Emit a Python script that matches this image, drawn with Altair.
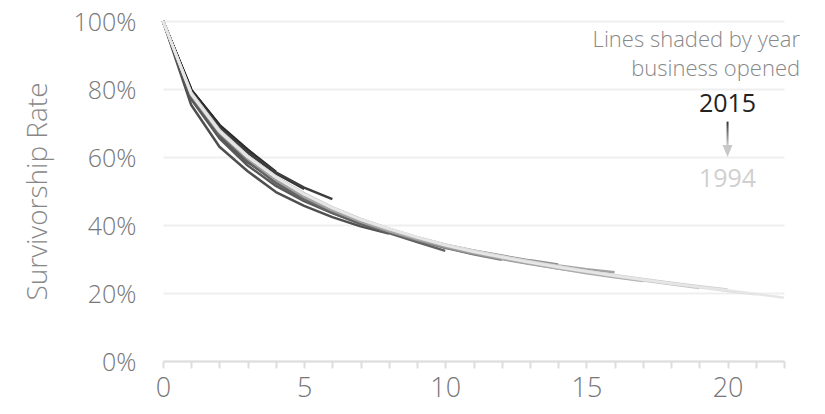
import altair as alt
import pandas as pd

# ---- data (survival rate in %, by age in years) ----
years = list(range(1994, 2016))
s1994 = [100, 78.5, 67.5, 60.0, 54.0, 49.0, 45.0, 41.6, 38.9, 36.4, 34.0, 32.1, 30.5, 29.0, 27.6, 26.3, 25.1, 23.9, 22.8, 21.8, 20.8, 19.7, 18.6]
s1995 = [100, 78.8, 67.8, 60.3, 54.2, 49.2, 45.2, 41.8, 39.0, 36.5, 34.3, 32.4, 30.8, 29.3, 27.9, 26.5, 25.2, 24.0, 22.8, 21.7, 20.6, 19.6]
s1996 = [100, 78.6, 67.6, 60.1, 54.0, 49.1, 45.0, 41.6, 38.8, 36.3, 34.1, 32.3, 30.7, 29.2, 27.8, 26.5, 25.3, 24.1, 23.0, 22.0, 21.0]
s1997 = [100, 78.9, 67.9, 60.2, 54.1, 49.2, 45.1, 41.7, 38.9, 36.4, 34.2, 32.3, 30.6, 29.1, 27.6, 26.2, 24.9, 23.7, 22.6, 21.5]
s1998 = [100, 79.0, 68.0, 60.4, 54.2, 49.3, 45.2, 41.8, 38.9, 36.3, 34.1, 32.2, 30.6, 29.1, 27.7, 26.4, 25.1, 23.9, 22.9]
s1999 = [100, 78.7, 67.8, 60.2, 54.0, 49.0, 44.9, 41.4, 38.5, 36.0, 33.8, 31.9, 30.2, 28.7, 27.2, 25.8, 24.6, 23.5]
s2000 = [100, 78.4, 67.3, 59.5, 53.2, 48.3, 44.3, 41.0, 38.2, 35.9, 34.0, 32.3, 30.8, 29.4, 28.1, 27.0, 26.1]
s2001 = [100, 78.3, 67.2, 59.6, 53.4, 48.4, 44.4, 41.0, 38.2, 35.7, 33.5, 31.6, 30.0, 28.5, 27.2, 26.0]
s2002 = [100, 78.6, 67.5, 59.9, 53.8, 48.9, 44.8, 41.5, 38.7, 36.3, 34.2, 32.5, 31.0, 29.6, 28.4]
s2003 = [100, 78.2, 67.4, 59.8, 53.5, 48.6, 44.6, 41.3, 38.5, 36.0, 33.8, 31.9, 30.2, 28.7]
s2004 = [100, 78.5, 67.6, 60.0, 53.6, 48.6, 44.6, 41.2, 38.2, 35.6, 33.3, 31.4, 29.8]
s2005 = [100, 78.3, 67.2, 59.5, 53.2, 48.0, 44.0, 40.8, 38.0, 35.6, 33.4, 31.5]
s2006 = [100, 78.0, 66.5, 58.8, 52.3, 47.4, 43.6, 40.3, 37.6, 35.0, 32.4]
s2007 = [100, 77.0, 65.5, 57.5, 51.5, 47.0, 43.5, 40.5, 38.0, 35.8]
s2008 = [100, 75.3, 63.0, 55.8, 49.7, 45.6, 42.3, 39.6, 37.5]
s2009 = [100, 77.5, 66.0, 58.5, 52.8, 48.3, 44.6, 41.5]
s2010 = [100, 79.0, 68.8, 61.5, 55.5, 51.0, 47.6]
s2011 = [100, 79.2, 68.6, 61.2, 55.2, 50.6]
s2012 = [100, 79.7, 69.4, 62.2, 55.7]
s2013 = [100, 79.6, 69.2, 61.8]
s2014 = [100, 79.8, 69.5]
s2015 = [100, 80.0]

series = [s1994, s1995, s1996, s1997, s1998, s1999, s2000, s2001, s2002, s2003, s2004,
          s2005, s2006, s2007, s2008, s2009, s2010, s2011, s2012, s2013, s2014, s2015]

x_ticks = list(range(0, 23))
y_ticks = [0, 0.2, 0.4, 0.6, 0.8, 1.0]

note_lines = ["Lines shaded by year", "business opened"]
note_x = [22.57, 22.57]
note_y = [0.925, 0.838]

key_labels = ["2015", "1994"]
key_x = [20, 20]
key_y = [0.732, 0.512]
key_colors = ["#222222", "#d0d0d0"]

arrow_x = [20]
arrow_top = [0.704]
arrow_bottom = [0.635]
arrow_tip = [0.618]

rows = []
# newest cohorts first so that the lighter, older lines are drawn on top
for yr, vals in reversed(list(zip(years, series))):
    for age, v in enumerate(vals):
        rows.append({"year": yr, "age": age, "rate": v / 100})
df = pd.DataFrame(rows)

FONT = "Open Sans"
x_scale = alt.Scale(domain=[0, 22], nice=False, zero=True, padding=0)
y_scale = alt.Scale(domain=[0, 1], nice=False, padding=0)

x_axis = alt.Axis(values=x_ticks,
                  labelExpr="datum.value % 5 === 0 ? datum.label : ''",
                  grid=False, domain=True, domainColor="#dddddd", domainWidth=2,
                  ticks=True, tickColor="#dddddd", tickWidth=2, tickSize=7,
                  labelFont=FONT, labelFontSize=27, labelFontWeight=300,
                  labelColor="#777777", labelPadding=7, labelFlush=False,
                  labelOverlap=False)
y_axis = alt.Axis(values=y_ticks, format=".0%", grid=True, gridColor="#efefef",
                  gridWidth=2, domain=False, ticks=False, tickSize=0,
                  labelFont=FONT, labelFontSize=25, labelFontWeight=300,
                  labelColor="#777777", labelPadding=27, labelFlush=False, labelOffset=1.5,
                  titleFont=FONT, titleFontSize=28, titleFontWeight=300,
                  titleColor="#888888", titlePadding=21)

X = alt.X("age:Q", scale=x_scale, title=None, axis=x_axis)
Y = alt.Y("rate:Q", scale=y_scale, title="Survivorship Rate", axis=y_axis)

lines = alt.Chart(df).mark_line(strokeWidth=2.5, strokeJoin="round", strokeCap="butt").encode(
    x=X, y=Y,
    color=alt.Color("year:Q", scale=alt.Scale(domain=[1994, 2015], range=["#e6e6e6", "#111111"]),
                    legend=None),
    detail="year:N",
    order="age:Q",
)

note_df = pd.DataFrame({"age": note_x, "rate": note_y, "text": note_lines})
note = alt.Chart(note_df).mark_text(align="right", baseline="alphabetic", font=FONT,
                                    fontSize=22, fontWeight=300, color="#888888").encode(
    x=X, y=Y, text="text:N",
)

key_df = pd.DataFrame({"age": key_x, "rate": key_y, "text": key_labels, "c": key_colors})
key = alt.Chart(key_df).mark_text(align="center", baseline="alphabetic", font=FONT,
                                  fontSize=25).encode(
    x=X, y=Y, text="text:N",
    color=alt.Color("c:N", scale=None, legend=None),
)

grad = alt.LinearGradient(gradient="linear", x1=0, x2=0, y1=0, y2=1,
                          stops=[alt.GradientStop(offset=0, color="#333333"),
                                 alt.GradientStop(offset=1, color="#c8c8c8")])
shaft_df = pd.DataFrame({"age": arrow_x, "rate": arrow_top, "rate2": arrow_bottom})
shaft = alt.Chart(shaft_df).mark_bar(size=2, color=grad).encode(
    x=X, y=Y, y2="rate2:Q",
)

head_df = pd.DataFrame({"age": arrow_x, "rate": arrow_tip})
head = alt.Chart(head_df).mark_point(shape="M-0.83,-1L0.83,-1L0,1Z", filled=True, size=144,
                                     color="#c8c8c8", opacity=1, strokeWidth=0).encode(
    x=X, y=Y,
)

chart = alt.layer(lines, note, key, shaft, head).properties(
    width=621, height=340,
    autosize=alt.AutoSizeParams(type="none"),
    padding={"left": 155, "top": 13, "right": 30, "bottom": 45},
    background="white",
).configure_view(stroke=None)

chart.save("out.html", embed_options={"renderer": "svg", "actions": False})
